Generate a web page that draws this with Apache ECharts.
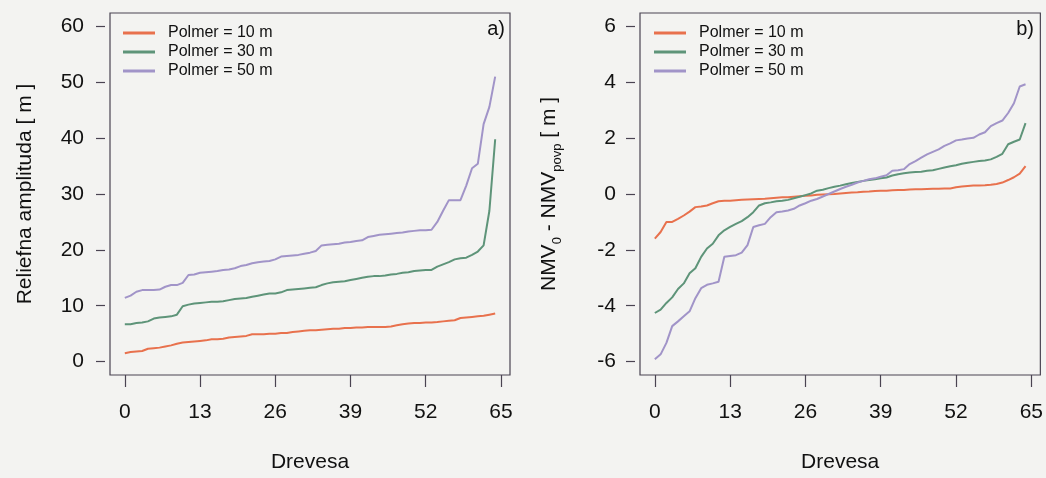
<!DOCTYPE html>
<html>
<head>
<meta charset="utf-8">
<script src="https://cdn.jsdelivr.net/npm/echarts@6/dist/echarts.min.js"></script>
<style>
html,body{margin:0;padding:0;background:#f3f3f1;}
#chart{width:1046px;height:478px;}
</style>
</head>
<body>
<div id="chart"></div>
<script>
// ---- data (65 trees, sorted) ----
const seriesNames = ['Polmer = 10 m', 'Polmer = 30 m', 'Polmer = 50 m'];
const xTicks = [0, 13, 26, 39, 52, 65];
const yTicksA = [0, 10, 20, 30, 40, 50, 60];
const yTicksB = [-6, -4, -2, 0, 2, 4, 6];

// panel a) Reliefna amplituda [m]
const ampl10 = [1.5,1.7,1.8,1.9,2.3,2.4,2.5,2.7,2.9,3.2,3.4,3.5,3.6,3.7,3.8,4.0,4.0,4.1,4.3,4.4,4.5,4.6,4.9,4.9,4.9,5.0,5.0,5.1,5.1,5.3,5.4,5.5,5.6,5.6,5.7,5.8,5.9,5.9,6.0,6.0,6.1,6.1,6.2,6.2,6.2,6.2,6.3,6.5,6.7,6.8,6.9,6.9,7.0,7.0,7.1,7.2,7.3,7.4,7.8,7.9,8.0,8.1,8.2,8.4,8.6];
const ampl30 = [6.7,6.7,6.9,7.0,7.2,7.7,7.9,8.0,8.1,8.4,9.9,10.2,10.4,10.5,10.6,10.7,10.7,10.8,11.0,11.2,11.3,11.4,11.6,11.8,12.0,12.2,12.2,12.4,12.8,12.9,13.0,13.1,13.2,13.3,13.7,14.0,14.2,14.3,14.4,14.6,14.8,15.0,15.2,15.3,15.3,15.4,15.6,15.7,15.9,16.0,16.2,16.3,16.4,16.4,17.0,17.4,17.8,18.3,18.5,18.6,19.1,19.7,20.8,27.0,39.8];
const ampl50 = [11.4,11.8,12.5,12.8,12.8,12.8,12.9,13.4,13.7,13.7,14.1,15.5,15.6,15.9,16.0,16.1,16.2,16.4,16.5,16.7,17.1,17.3,17.6,17.8,17.9,18.0,18.3,18.8,18.9,19.0,19.1,19.3,19.5,19.8,20.8,20.9,21.0,21.1,21.3,21.4,21.6,21.7,22.3,22.5,22.7,22.8,22.9,23.0,23.1,23.3,23.4,23.5,23.5,23.6,25.0,27.0,28.9,28.9,28.9,31.5,34.6,35.4,42.5,45.6,51.0];

// panel b) NMV0 - NMVpovp [m]
const diff10 = [-1.6,-1.36,-1.0,-1.0,-0.89,-0.77,-0.63,-0.47,-0.45,-0.41,-0.33,-0.26,-0.24,-0.24,-0.22,-0.21,-0.2,-0.19,-0.18,-0.17,-0.15,-0.13,-0.12,-0.12,-0.1,-0.08,-0.06,-0.05,-0.03,-0.02,-0.01,0.0,0.02,0.04,0.05,0.06,0.08,0.09,0.11,0.12,0.12,0.13,0.14,0.14,0.16,0.17,0.17,0.18,0.19,0.19,0.2,0.2,0.24,0.27,0.29,0.3,0.3,0.31,0.33,0.36,0.41,0.5,0.6,0.73,1.0];
const diff30 = [-4.26,-4.14,-3.9,-3.7,-3.4,-3.2,-2.84,-2.66,-2.25,-1.95,-1.78,-1.48,-1.3,-1.18,-1.07,-0.97,-0.83,-0.65,-0.41,-0.33,-0.3,-0.26,-0.24,-0.21,-0.15,-0.1,-0.04,0.02,0.12,0.15,0.21,0.26,0.3,0.35,0.39,0.43,0.47,0.5,0.53,0.56,0.59,0.66,0.71,0.74,0.77,0.79,0.8,0.83,0.85,0.9,0.95,0.99,1.03,1.08,1.12,1.15,1.18,1.2,1.24,1.33,1.44,1.78,1.87,1.95,2.54];
const diff50 = [-5.92,-5.74,-5.33,-4.73,-4.56,-4.38,-4.2,-3.73,-3.37,-3.25,-3.2,-3.14,-2.25,-2.22,-2.19,-2.1,-1.83,-1.18,-1.12,-1.07,-0.83,-0.65,-0.63,-0.59,-0.53,-0.41,-0.33,-0.24,-0.18,-0.09,0.0,0.09,0.18,0.26,0.33,0.41,0.47,0.53,0.56,0.62,0.67,0.83,0.85,0.89,1.07,1.18,1.3,1.42,1.51,1.6,1.72,1.81,1.92,1.95,1.99,2.01,2.13,2.21,2.43,2.54,2.63,2.9,3.25,3.85,3.93];

const colors = ['#e8714d', '#5e9479', '#a194c8'];
const ink = '#111111';
const boxColor = '#4a4452';
const font = '"Liberation Sans", Arial, sans-serif';

const pairs = arr => arr.map((v, i) => [i, v]);

function xAxisDef(gridIndex) {
  return {
    type: 'value', gridIndex, min: -2.56, max: 66.56, position: 'bottom',
    splitLine: {show: false},
    axisLine: {show: false, onZero: false},
    axisTick: {show: true, inside: false, length: 12, customValues: xTicks, lineStyle: {color: boxColor, width: 1.2}},
    axisLabel: {customValues: xTicks, margin: 27, fontSize: 21, color: ink, fontFamily: font},
    name: 'Drevesa', nameLocation: 'middle', nameGap: 77,
    nameTextStyle: {fontSize: 21, color: ink, fontFamily: font}
  };
}

const option = {
  backgroundColor: '#f3f3f1',
  animation: false,
  textStyle: {fontFamily: font},
  title: [
    {text: 'a)', right: 541, top: 19, textStyle: {fontSize: 20, fontWeight: 'normal', color: ink, fontFamily: font}, padding: 0},
    {text: 'b)', right: 12, top: 19, textStyle: {fontSize: 20, fontWeight: 'normal', color: ink, fontFamily: font}, padding: 0}
  ],
  grid: [
    {left: 110, right: 536, top: 13, bottom: 99, show: true, borderColor: boxColor, borderWidth: 1.2, backgroundColor: 'transparent'},
    {left: 640, right: 4, top: 13, bottom: 98, show: true, borderColor: boxColor, borderWidth: 1.2, backgroundColor: 'transparent'}
  ],
  legend: [
    {orient: 'vertical', left: 123, top: 25, padding: 0, itemGap: 3, itemWidth: 32, itemHeight: 3, icon: 'rect',
     data: seriesNames, textStyle: {fontSize: 16, color: ink, fontFamily: font, padding: [0, 0, 0, 8]}},
    {orient: 'vertical', left: 654, top: 25, padding: 0, itemGap: 3, itemWidth: 32, itemHeight: 3, icon: 'rect',
     data: seriesNames, textStyle: {fontSize: 16, color: ink, fontFamily: font, padding: [0, 0, 0, 8]}}
  ],
  xAxis: [xAxisDef(0), xAxisDef(1)],
  yAxis: [
    {type: 'value', gridIndex: 0, min: -2.4, max: 62.4, offset: 5, position: 'left',
     splitLine: {show: false}, axisLine: {show: false, onZero: false},
     axisTick: {show: true, inside: false, length: 9, customValues: yTicksA, lineStyle: {color: boxColor, width: 1.2}},
     axisLabel: {customValues: yTicksA, margin: 21, fontSize: 21, color: ink, fontFamily: font},
     name: 'Reliefna amplituda [ m ]', nameLocation: 'middle', nameGap: 69,
     nameTextStyle: {fontSize: 21, color: ink, fontFamily: font}},
    {type: 'value', gridIndex: 1, min: -6.48, max: 6.48, offset: 5, position: 'left',
     splitLine: {show: false}, axisLine: {show: false, onZero: false},
     axisTick: {show: true, inside: false, length: 9, customValues: yTicksB, lineStyle: {color: boxColor, width: 1.2}},
     axisLabel: {customValues: yTicksB, margin: 19, fontSize: 21, color: ink, fontFamily: font},
     name: 'NMV{sub|0} - NMV{sub|povp} [ m ]', nameLocation: 'middle', nameGap: 71,
     nameTextStyle: {fontSize: 21, color: ink, fontFamily: font,
       rich: {sub: {fontSize: 13, color: ink, fontFamily: font, verticalAlign: 'bottom', lineHeight: 30}}}}
  ],
  series: [
    {name: seriesNames[0], type: 'line', xAxisIndex: 0, yAxisIndex: 0, data: pairs(ampl10)},
    {name: seriesNames[1], type: 'line', xAxisIndex: 0, yAxisIndex: 0, data: pairs(ampl30)},
    {name: seriesNames[2], type: 'line', xAxisIndex: 0, yAxisIndex: 0, data: pairs(ampl50)},
    {name: seriesNames[0], type: 'line', xAxisIndex: 1, yAxisIndex: 1, data: pairs(diff10)},
    {name: seriesNames[1], type: 'line', xAxisIndex: 1, yAxisIndex: 1, data: pairs(diff30)},
    {name: seriesNames[2], type: 'line', xAxisIndex: 1, yAxisIndex: 1, data: pairs(diff50)}
  ].map((s, k) => Object.assign(s, {
    showSymbol: false, symbol: 'none',
    color: colors[k % 3],
    lineStyle: {width: 2, color: colors[k % 3]}
  }))
};

const chart = echarts.init(document.getElementById('chart'), null, {renderer: 'canvas'});
chart.setOption(option);
</script>
</body>
</html>
